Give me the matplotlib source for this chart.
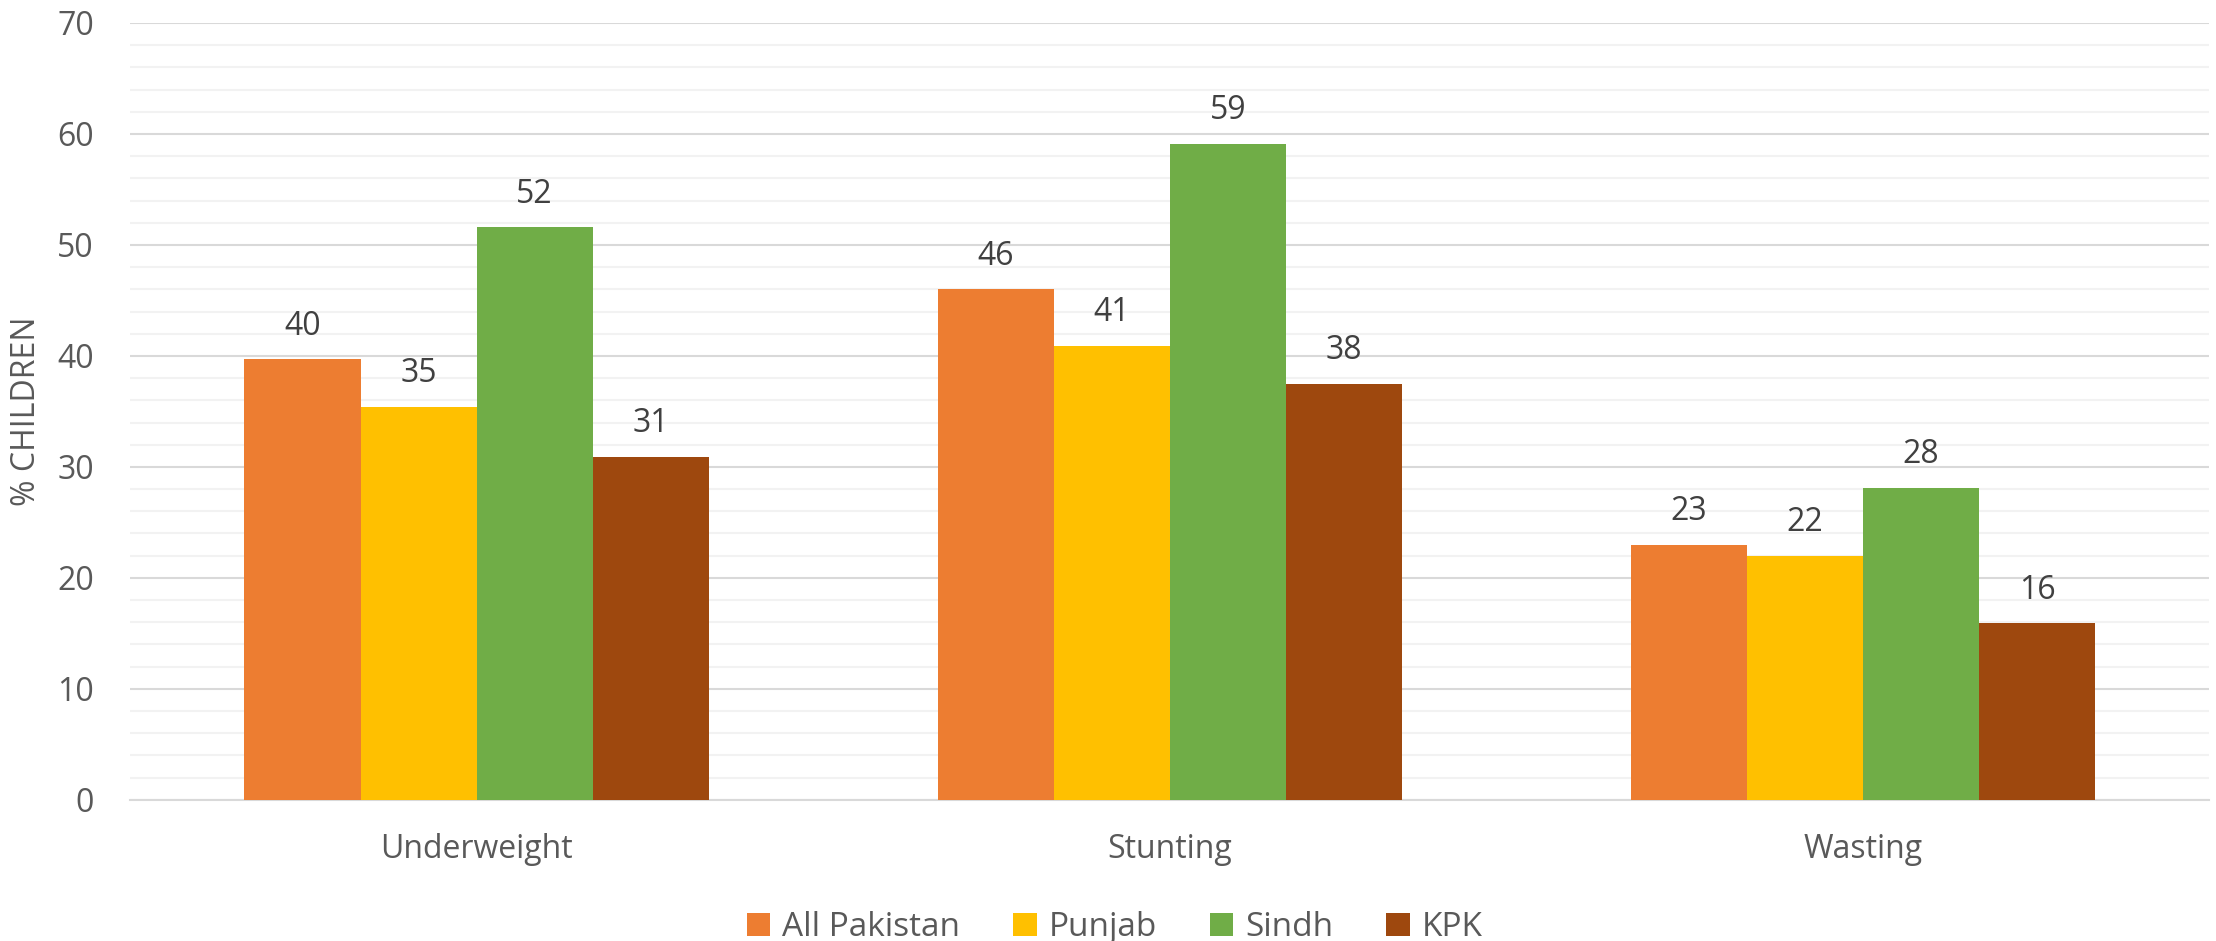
import numpy as np
import matplotlib.pyplot as plt
from matplotlib.ticker import MultipleLocator

categories = ["Underweight", "Stunting", "Wasting"]
regions = ["All Pakistan", "Punjab", "Sindh", "KPK"]
all_pakistan = [39.7, 46.0, 23.0]
punjab = [35.4, 40.9, 22.0]
sindh = [51.6, 59.1, 28.1]
kpk = [30.9, 37.5, 15.9]

colors = ["#ED7D31", "#FFC000", "#70AD47", "#9E480E"]

plt.rcParams["font.family"] = ["Open Sans", "DejaVu Sans"]

fig = plt.figure(figsize=(22.16, 9.41), dpi=100)
ax = fig.add_axes([0.0587, 0.15, 0.9383, 0.8256])

x = np.arange(len(categories))
width = 0.1675
series = [all_pakistan, punjab, sindh, kpk]

for i, (name, vals) in enumerate(zip(regions, series)):
    pos = x + (i - 1.5) * width
    bars = ax.bar(pos, vals, width, color=colors[i], label=name, zorder=3)
    for b, v in zip(bars, vals):
        ax.text(b.get_x() + b.get_width() / 2, v + 1.5, f"{v:.0f}",
                ha="center", va="bottom", fontsize=23, color="#404040")

ax.set_xlim(-0.5, 2.5)
ax.set_ylim(0, 70)
ax.yaxis.set_major_locator(MultipleLocator(10))
ax.yaxis.set_minor_locator(MultipleLocator(2))
ax.grid(which="major", axis="y", color="#d9d9d9", linewidth=1.5, zorder=0)
ax.grid(which="minor", axis="y", color="#f2f2f2", linewidth=1.5, zorder=0)
ax.set_axisbelow(True)

for s in ["top", "right", "left"]:
    ax.spines[s].set_visible(False)
ax.spines["bottom"].set_color("#d9d9d9")
ax.spines["bottom"].set_linewidth(1.5)

ax.set_xticks(x)
ax.set_xticklabels(categories)
ax.tick_params(axis="both", which="both", length=0, labelsize=23,
               labelcolor="#595959")
ax.tick_params(axis="x", pad=24)
ax.tick_params(axis="y", pad=26)
ax.set_ylabel("% CHILDREN", fontsize=23, color="#595959", labelpad=10)

fig.legend(loc="lower center", bbox_to_anchor=(0.503, -0.035), ncol=4,
           frameon=False, fontsize=24, labelcolor="#595959",
           handlelength=0.7, handleheight=0.7, handletextpad=0.35,
           columnspacing=1.6)

fig.savefig("out.png", dpi=100)
